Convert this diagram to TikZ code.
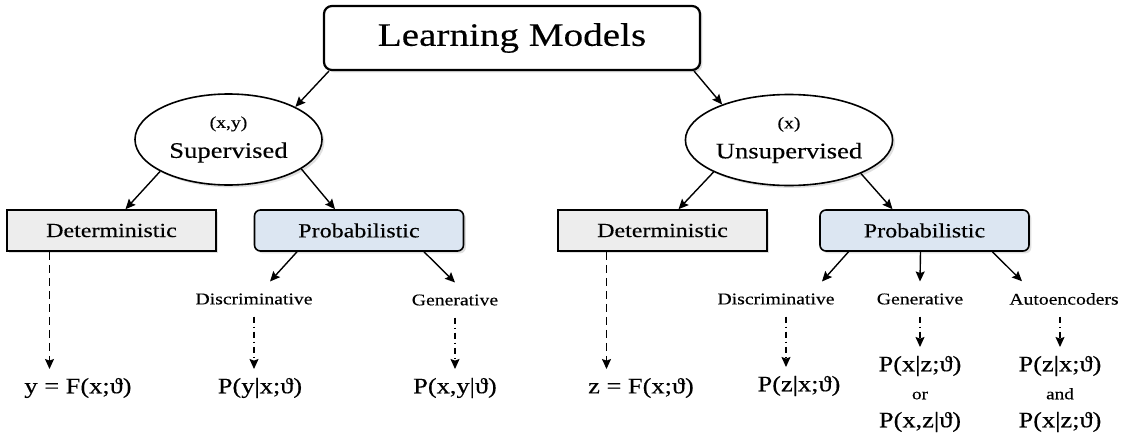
\documentclass[tikz,border=0pt]{standalone}
\usepackage{fontspec}
\setmainfont{Liberation Serif}[FakeStretch=1.2,FakeBold=0.3]
\usetikzlibrary{arrows.meta,shapes,shadows}
\definecolor{detgray}{HTML}{EDEDED}
\definecolor{probblue}{HTML}{DCE6F2}

\begin{document}
\begin{tikzpicture}[x=0.5pt,y=-0.5pt,>={Stealth[length=5pt,width=4.5pt,inset=0.8pt]},
  boxshadow/.style={drop shadow={shadow xshift=1.2pt,shadow yshift=-1.2pt,opacity=0.25}},
  root/.style={draw,line width=1.1pt,rounded corners=4pt,fill=white,boxshadow,minimum width=188pt,minimum height=32pt,font=\fontsize{16.3}{19}\selectfont},
  kind/.style={draw,ellipse,line width=0.8pt,fill=white,boxshadow,inner sep=0pt,minimum height=45.5pt,align=center,font=\fontsize{11.1}{15}\selectfont},
  det/.style={draw,line width=0.8pt,fill=detgray,boxshadow,minimum width=104.5pt,minimum height=20.5pt,inner sep=0pt,font=\fontsize{10}{12}\selectfont},
  prob/.style={det,fill=probblue,rounded corners=3pt},
  lbl/.style={inner sep=2pt,outer sep=4pt,font=\fontsize{8.2}{10}\selectfont},
  form/.style={inner sep=2pt,outer sep=2.5pt,align=center,font=\fontsize{11}{14}\selectfont},
  dashy/.style={dash pattern=on 4pt off 2.5pt,line width=0.7pt,->},
  dashdot/.style={dash pattern=on 3pt off 2pt on 0.6pt off 2pt,line width=0.6pt,->}]
  \useasboundingbox (0,0) rectangle (1125,439);

  \node[root] (top) at (512,38) {Learning Models};
  \node[kind,minimum width=93.5pt] (sup) at (228.5,139.5) {{\fontsize{8.2}{10}\selectfont (x,y)}\\ Supervised};
  \node[kind,minimum width=101pt] (unsup) at (789,140) {{\fontsize{8.2}{10}\selectfont (x)}\\ Unsupervised};

  \node[det] (detL) at (111.5,230.5) {Deterministic};
  \node[prob] (probL) at (359,230.5) {Probabilistic};
  \node[det] (detR) at (662.5,230.5) {Deterministic};
  \node[prob] (probR) at (924.5,230.5) {Probabilistic};

  \node[lbl] (discL) at (254,299) {Discriminative};
  \node[lbl] (genL) at (455,300) {Generative};
  \node[lbl] (discR) at (776,299) {Discriminative};
  \node[lbl] (genR) at (920,299) {Generative};
  \node[lbl] (autoR) at (1064,299) {Autoencoders};

  \node[form] (fL) at (78,388) {y = F(x;ϑ)};
  \node[form] (pDL) at (260,388) {P(y|x;ϑ)};
  \node[form] (pGL) at (455,388) {P(x,y|ϑ)};
  \node[form] (fR) at (641,388) {z = F(x;ϑ)};
  \node[form] (pDR) at (799,386) {P(z|x;ϑ)};
  \node[form] (pGR) at (920,394) {P(x|z;ϑ)\\ {\fontsize{8}{10}\selectfont or}\\ P(x,z|ϑ)};
  \node[form] (pAR) at (1060,394) {P(z|x;ϑ)\\ {\fontsize{8}{10}\selectfont and}\\ P(x|z;ϑ)};

  \path[->,line width=0.7pt]
    ([xshift=3pt]top.south west) edge (sup.26)
    ([xshift=-3.5pt]top.south east) edge (unsup.152)
    (sup.205) edge ([xshift=7pt]detL.north)
    (sup.-22) edge ([xshift=-12pt]probL.north)
    (unsup.203) edge ([xshift=8pt]detR.north)
    (unsup.-25) edge ([xshift=-16pt]probR.north)
    ([xshift=-31pt]probL.south) edge ([xshift=8pt]discL.north)
    ([xshift=32.5pt]probL.south) edge (genL.north)
    ([xshift=-38pt]probR.south) edge ([xshift=23pt]discR.north)
    ([xshift=-2pt]probR.south) edge (genR.north)
    ([xshift=34pt]probR.south) edge ([xshift=-21pt]autoR.north);

  \coordinate (dl) at ([xshift=-31pt]detL.south);
  \coordinate (dr) at ([xshift=-28pt]detR.south);
  \coordinate (xr) at ([xshift=5pt]discR.south);
  \coordinate (ar) at ([xshift=-2pt]autoR.south);
  \draw[dashy] (dl) -- (dl |- fL.north);
  \draw[dashy] (dr) -- (dr |- fR.north);
  \draw[dashdot] (discL.south) -- (discL.south |- pDL.north);
  \draw[dashdot] (genL.south) -- (genL.south |- pGL.north);
  \draw[dashdot] (xr) -- (xr |- pDR.north);
  \draw[dashdot] (genR.south) -- (genR.south |- pGR.north);
  \draw[dashdot] (ar) -- (ar |- pAR.north);
\end{tikzpicture}
\end{document}
